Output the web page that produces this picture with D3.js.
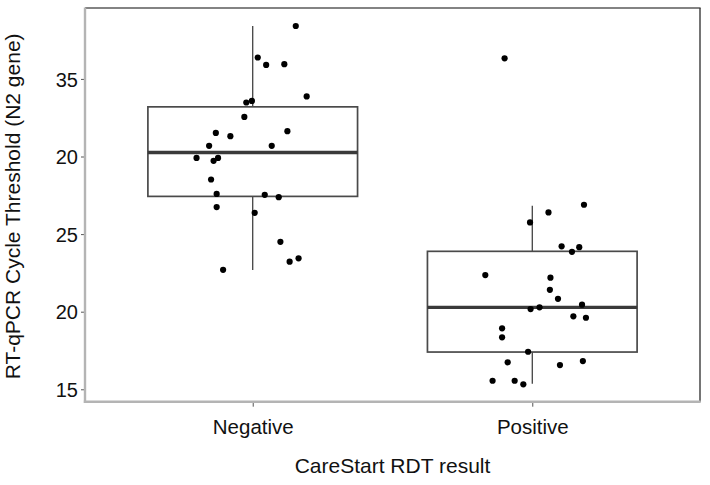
<!DOCTYPE html>
<html>
<head>
<meta charset="utf-8">
<script src="https://cdn.jsdelivr.net/npm/d3@7"></script>
<style>
  html, body { margin: 0; padding: 0; background: #fff; }
  svg { display: block; font-family: "Liberation Sans", Arial, Helvetica, sans-serif; }
</style>
</head>
<body>
<svg id="chart" width="710" height="485"></svg>
<script>
// ---- data ----
const categories = ["Negative", "Positive"];
const xTitle = "CareStart RDT result";
const yTitle = "RT-qPCR Cycle Threshold (N2 gene)";
const yTickValues = [15, 20, 25, 30, 35];
const yTickLabels = ["15", "20", "25", "20", "35"];

// box statistics: [whiskerLow, Q1, median, Q3, whiskerHigh]
const negativeBox = [22.68, 27.43, 30.26, 33.2, 38.41];
const positiveBox = [15.36, 17.40, 20.28, 23.89, 26.82];

// jittered points: Ct values and horizontal jitter (category units)
const negativeValues = [38.41, 36.38, 35.90, 35.95, 33.87, 33.48, 33.58, 32.55, 31.52, 31.31, 31.63, 30.69, 30.69,
  29.91, 29.91, 29.72, 28.52, 27.59, 27.53, 27.38, 26.74, 26.37, 24.50, 23.44, 23.22, 22.70];
const negativeJitter = [0.154, 0.018, 0.048, 0.113, 0.193, -0.023, -0.003, -0.030, -0.132, -0.080, 0.124, -0.156, 0.068,
  -0.201, -0.124, -0.140, -0.149, -0.129, 0.043, 0.093, -0.129, 0.007, 0.099, 0.164, 0.132, -0.106];
const positiveValues = [36.33, 26.89, 26.40, 25.75, 24.21, 24.16, 23.86, 22.36, 22.19, 21.41, 20.83, 20.45, 20.17, 20.28,
  19.70, 19.61, 18.93, 18.35, 17.42, 16.74, 16.56, 16.82, 15.55, 15.55, 15.32];
const positiveJitter = [-0.099, 0.185, 0.058, -0.008, 0.105, 0.168, 0.142, -0.168, 0.065, 0.063, 0.092, 0.178, -0.006, 0.026,
  0.147, 0.192, -0.108, -0.108, -0.015, -0.088, 0.099, 0.181, -0.142, -0.063, -0.032];

const groups = [
  { cat: categories[0], box: negativeBox, values: negativeValues, jitter: negativeJitter },
  { cat: categories[1], box: positiveBox, values: positiveValues, jitter: positiveJitter }
];

// ---- layout ----
const panel = { left: 85, right: 700, top: 8, bottom: 401.7 };
const svg = d3.select("#chart");

const x = d3.scalePoint().domain(categories).range([panel.left, panel.right]).padding(0.6);
const step = x.step();
const boxW = step * 0.75;
const y = d3.scaleLinear().domain([14.2, 39.57]).range([panel.bottom, panel.top]);

// panel border (top/right darker)
svg.append("line").attr("x1", panel.left).attr("x2", panel.right + 0.6)
  .attr("y1", panel.top).attr("y2", panel.top).attr("stroke", "#5a5a5a").attr("stroke-width", 1.3);
svg.append("line").attr("x1", panel.right).attr("x2", panel.right)
  .attr("y1", panel.top).attr("y2", panel.bottom).attr("stroke", "#3a3a3a").attr("stroke-width", 1.4);

// boxes
groups.forEach(g => {
  const cx = x(g.cat);
  const [wl, q1, med, q3, wh] = g.box;
  const gg = svg.append("g");
  gg.append("line").attr("x1", cx).attr("x2", cx).attr("y1", y(q3)).attr("y2", y(wh))
    .attr("stroke", "#333").attr("stroke-width", 1.2);
  gg.append("line").attr("x1", cx).attr("x2", cx).attr("y1", y(q1)).attr("y2", y(wl))
    .attr("stroke", "#333").attr("stroke-width", 1.2);
  gg.append("rect").attr("x", cx - boxW / 2).attr("width", boxW)
    .attr("y", y(q3)).attr("height", y(q1) - y(q3))
    .attr("fill", "#fff").attr("stroke", "#4a4a4a").attr("stroke-width", 1.7);
  gg.append("line").attr("x1", cx - boxW / 2).attr("x2", cx + boxW / 2)
    .attr("y1", y(med)).attr("y2", y(med)).attr("stroke", "#3a3a3a").attr("stroke-width", 3.4);
});

// points
groups.forEach(g => {
  svg.append("g").selectAll("circle").data(g.values).join("circle")
    .attr("cx", (d, i) => x(g.cat) + g.jitter[i] * step)
    .attr("cy", d => y(d))
    .attr("r", 3.1)
    .attr("fill", "#000");
});

// axes
const yAxis = svg.append("g").attr("transform", `translate(${panel.left},0)`)
  .call(d3.axisLeft(y).tickValues(yTickValues).tickFormat((d, i) => yTickLabels[i]).tickSize(4).tickPadding(3));
yAxis.select(".domain").remove();
yAxis.selectAll(".tick line").attr("stroke", "#555").attr("stroke-width", 1);
yAxis.selectAll(".tick text").attr("fill", "#111").style("font-size", "20px")
  .style("font-family", "'Liberation Sans', Arial, Helvetica, sans-serif").attr("dy", "0.36em");

const xAxis = svg.append("g").attr("transform", `translate(0,${panel.bottom})`)
  .call(d3.axisBottom(x).tickSize(5).tickPadding(5));
xAxis.select(".domain").remove();
xAxis.selectAll(".tick line").attr("stroke", "#555").attr("stroke-width", 1);
xAxis.selectAll(".tick text").attr("fill", "#111").style("font-size", "20.5px")
  .style("font-family", "'Liberation Sans', Arial, Helvetica, sans-serif").attr("y", 0).attr("dy", 0)
  .attr("transform", "translate(0,31.8)");

// axis lines (light grey, left & bottom)
svg.append("line").attr("x1", panel.left).attr("x2", panel.left)
  .attr("y1", panel.top - 0.6).attr("y2", panel.bottom + 1.2).attr("stroke", "#b4b4b4").attr("stroke-width", 2.4);
svg.append("line").attr("x1", panel.left - 1.2).attr("x2", panel.right + 0.7)
  .attr("y1", panel.bottom).attr("y2", panel.bottom).attr("stroke", "#b4b4b4").attr("stroke-width", 2.4);

// titles
svg.append("text").attr("x", (panel.left + panel.right) / 2).attr("y", 472.5)
  .attr("text-anchor", "middle").attr("fill", "#111").style("font-size", "21px").text(xTitle);
svg.append("text").attr("transform", `translate(19.5,${(panel.top + panel.bottom) / 2 + 1.5}) rotate(-90)`)
  .attr("text-anchor", "middle").attr("fill", "#111").style("font-size", "21px").text(yTitle);
</script>
</body>
</html>
